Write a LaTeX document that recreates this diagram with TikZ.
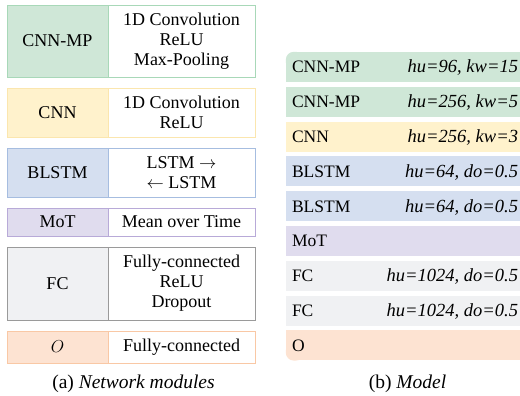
\documentclass[tikz,border=0pt]{standalone}
\usepackage{fontspec}
\setmainfont{Liberation Serif}

\definecolor{gfill}{HTML}{CFE7D7}
\definecolor{gline}{HTML}{A8D8B8}
\definecolor{yfill}{HTML}{FFF2CC}
\definecolor{yline}{HTML}{FBE6AE}
\definecolor{bfill}{HTML}{D5DFF0}
\definecolor{bline}{HTML}{A6BDE0}
\definecolor{pfill}{HTML}{E0DCEE}
\definecolor{pline}{HTML}{B8AAD8}
\definecolor{kfill}{HTML}{F0F1F3}
\definecolor{kline}{HTML}{9A9A9A}
\definecolor{ofill}{HTML}{FDE3D2}
\definecolor{oline}{HTML}{F9C8A5}

\tikzset{
  modlab/.style={draw, line width=0.9pt, minimum width=101pt, inner sep=0pt,
    font=\fontsize{18}{20}\selectfont},
  moddesc/.style={draw, fill=white, line width=0.9pt, minimum width=147pt,
    align=center, inner sep=0pt, font=\fontsize{18}{20}\selectfont},
  modrow/.style={minimum width=234pt, minimum height=30pt, inner sep=0pt},
  rowlab/.style={anchor=west, inner sep=0pt, text height=11.6pt, text depth=0pt,
    font=\fontsize{17.5}{20}\selectfont},
  rowpar/.style={anchor=east, inner sep=0pt, text height=11.6pt, text depth=0pt,
    font=\fontsize{18.5}{20}\selectfont\itshape},
  capt/.style={font=\fontsize{19.5}{22}\selectfont},
}

\begin{document}
\begin{tikzpicture}[x=1pt, y=-1pt]
  \useasboundingbox (0,0) rectangle (520,396);

  % (a) network modules: name on the left, layers on the right
  \node[modlab, fill=gfill, draw=gline, minimum height=72pt] (mpL) at (57.5,41) {CNN-MP};
  \node[moddesc, draw=gline, minimum height=72pt] (mpR) at (181.5,41)
    {1D Convolution\\ReLU\\Max-Pooling};

  \node[modlab, fill=yfill, draw=yline, minimum height=49pt] (cnL) at (57.5,112.5) {CNN};
  \node[moddesc, draw=yline, minimum height=49pt] (cnR) at (181.5,112.5)
    {1D Convolution\\ReLU};

  \node[modlab, fill=bfill, draw=bline, minimum height=49pt] (blL) at (57.5,172.5) {BLSTM};
  \node[moddesc, draw=bline, minimum height=49pt] (blR) at (181.5,172.5)
    {LSTM $\rightarrow$\\$\leftarrow$ LSTM};

  \node[modlab, fill=pfill, draw=pline, minimum height=28pt] (moL) at (57.5,222) {MoT};
  \node[moddesc, draw=pline, minimum height=28pt] (moR) at (181.5,222)
    {Mean over Time};

  \node[modlab, fill=kfill, draw=kline, minimum height=73pt] (fcL) at (57.5,283.5) {FC};
  \node[moddesc, draw=kline, minimum height=73pt] (fcR) at (181.5,283.5)
    {Fully-connected\\ReLU\\Dropout};

  \node[modlab, fill=ofill, draw=oline, minimum height=32pt] (ouL) at (57.5,347) {$O$};
  \node[moddesc, draw=oline, minimum height=32pt] (ouR) at (181.5,347)
    {Fully-connected};

  \node[capt] (capa) at (133.5,384) {(a) \textit{Network modules}};

  % (b) model: stacked layers
  \node[modrow, fill=gfill] (r1) at (403,67)    {};
  \node[modrow, fill=gfill] (r2) at (403,101.8) {};
  \node[modrow, fill=yfill] (r3) at (403,136.6) {};
  \node[modrow, fill=bfill] (r4) at (403,171.4) {};
  \node[modrow, fill=bfill] (r5) at (403,206.2) {};
  \node[modrow, fill=pfill] (r6) at (403,241)   {};
  \node[modrow, fill=kfill] (r7) at (403,275.8) {};
  \node[modrow, fill=kfill] (r8) at (403,310.6) {};
  \node[modrow, fill=ofill] (r9) at (403,345.4) {};

  % round the outer left corners of the stack
  \fill[white] (r1.north west) rectangle ++(9,9);
  \fill[gfill, rounded corners=8pt] (r1.north west) rectangle ++(18,18);
  \fill[white] (r9.south west) rectangle ++(9,-9);
  \fill[ofill, rounded corners=8pt] (r9.south west) rectangle ++(18,-18);

  \foreach \r/\lab/\prm in {r1/CNN-MP/{hu=96, kw=15}, r2/CNN-MP/{hu=256, kw=5},
      r3/CNN/{hu=256, kw=3}, r4/BLSTM/{hu=64, do=0.5}, r5/BLSTM/{hu=64, do=0.5},
      r6/MoT/{}, r7/FC/{hu=1024, do=0.5}, r8/FC/{hu=1024, do=0.5}, r9/O/{}} {
    \node[rowlab] (\r l) at ([xshift=6pt]\r.west) {\lab};
    \node[rowpar] (\r p) at ([xshift=-2pt]\r.east) {\prm};
  }

  \node[capt] (capb) at (407.5,384) {(b) \textit{Model}};
\end{tikzpicture}
\end{document}
